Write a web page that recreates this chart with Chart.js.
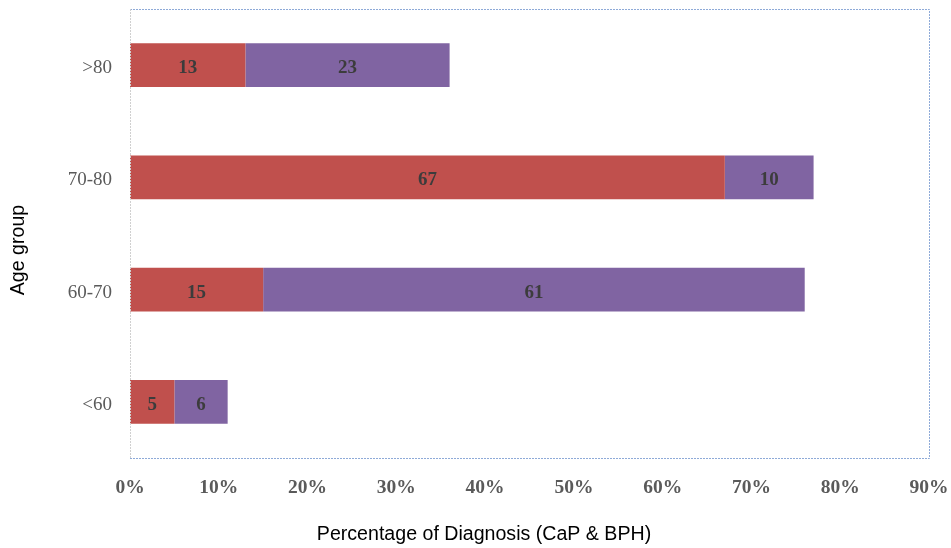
<!DOCTYPE html>
<html>
<head>
<meta charset="utf-8">
<style>
  html, body { margin: 0; padding: 0; background: #fff; }
  #wrap { width: 951px; height: 548px; position: relative; }
</style>
<script src="https://cdn.jsdelivr.net/npm/chart.js@4.4.0/dist/chart.umd.min.js"></script>
</head>
<body>
<div id="wrap"><canvas id="ageChart" width="951" height="548"></canvas></div>
<script>
// Age groups, top to bottom
const ageGroups = ['>80', '70-80', '60-70', '<60'];
// Share of diagnoses per age group (%)
const capValues = [13, 67, 15, 5];
const bphValues = [23, 10, 61, 6];
const xTicks = [0, 10, 20, 30, 40, 50, 60, 70, 80, 90];

const serif = '"Liberation Serif", "DejaVu Serif", serif';
const narrow = '"Liberation Sans Narrow", "Liberation Sans", Arial, sans-serif';

// Writes the value in the middle of every bar segment
const barLabels = {
  id: 'barLabels',
  afterDatasetsDraw(chart) {
    const ctx = chart.ctx;
    ctx.save();
    ctx.font = 'bold 19px ' + serif;
    ctx.fillStyle = '#3c3c3c';
    ctx.textAlign = 'center';
    ctx.textBaseline = 'middle';
    chart.data.datasets.forEach((ds, i) => {
      chart.getDatasetMeta(i).data.forEach((bar, j) => {
        const x = (bar.x + bar.base) / 2;
        ctx.fillText(ds.data[j], x, bar.y + 3);
      });
    });
    ctx.restore();
  }
};

// Dotted frame around the plot area plus the two axis titles
const frame = {
  id: 'frame',
  afterDraw(chart) {
    const { ctx, chartArea: a } = chart;
    ctx.save();
    ctx.lineWidth = 1;
    ctx.setLineDash([2, 1]);
    ctx.strokeStyle = '#8eaad8';
    ctx.beginPath();
    ctx.moveTo(a.left, a.top + 0.5);
    ctx.lineTo(a.right + 0.5, a.top + 0.5);
    ctx.lineTo(a.right + 0.5, a.bottom + 0.5);
    ctx.lineTo(a.left, a.bottom + 0.5);
    ctx.stroke();
    ctx.strokeStyle = '#d0d0d0';
    ctx.beginPath();
    ctx.moveTo(a.left + 0.5, a.top);
    ctx.lineTo(a.left + 0.5, a.bottom);
    ctx.stroke();
    ctx.setLineDash([]);

    ctx.fillStyle = '#000';
    ctx.font = '19.6px ' + narrow;
    ctx.textAlign = 'center';
    ctx.textBaseline = 'middle';
    ctx.fillText('Percentage of Diagnosis (CaP & BPH)', 484, 535);
    ctx.translate(19, 250);
    ctx.rotate(-Math.PI / 2);
    ctx.fillText('Age group', 0, 0);
    ctx.restore();
  }
};

new Chart(document.getElementById('ageChart'), {
  type: 'bar',
  data: {
    labels: ageGroups,
    datasets: [
      { label: 'CaP', data: capValues, backgroundColor: '#c0504d' },
      { label: 'BPH', data: bphValues, backgroundColor: '#8064a2' }
    ]
  },
  options: {
    indexAxis: 'y',
    responsive: false,
    animation: false,
    categoryPercentage: 1,
    barPercentage: 0.39,
    layout: { padding: { top: 9, right: 22, left: 0, bottom: 0 } },
    plugins: {
      legend: { display: false },
      tooltip: { enabled: false }
    },
    scales: {
      x: {
        stacked: true,
        min: 0,
        max: 90,
        afterFit(scale) {
          scale.height = 90;
          scale.paddingLeft = 0;
          scale.paddingRight = 0;
        },
        afterBuildTicks(scale) { scale.ticks = xTicks.map(v => ({ value: v })); },
        grid: { display: false, drawTicks: false },
        border: { display: false },
        ticks: {
          padding: 18,
          color: '#5a5a5a',
          font: { family: serif, size: 19.5, weight: 'bold' },
          callback: v => v + '%'
        }
      },
      y: {
        stacked: true,
        afterFit(scale) {
          scale.width = 130;
          scale.paddingTop = 0;
          scale.paddingBottom = 0;
        },
        grid: { display: false, drawTicks: false },
        border: { display: false },
        ticks: {
          padding: 18,
          labelOffset: 3,
          color: '#5a5a5a',
          font: { family: serif, size: 19 }
        }
      }
    }
  },
  plugins: [barLabels, frame]
});
</script>
</body>
</html>
